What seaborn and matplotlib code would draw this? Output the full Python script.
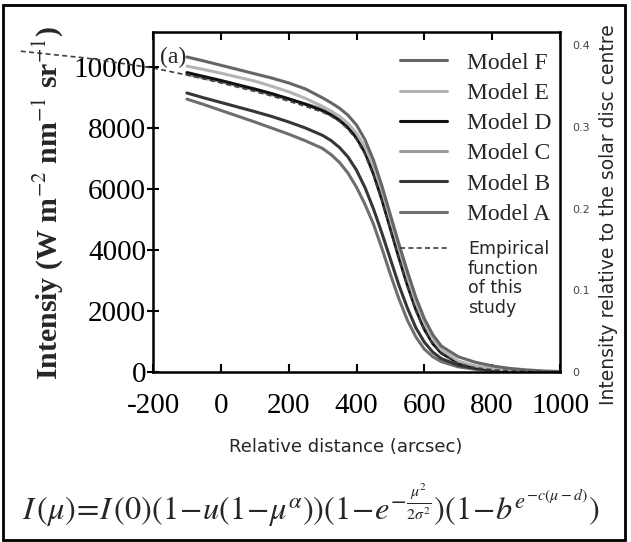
import numpy as np
import pandas as pd
import seaborn as sns
import matplotlib.pyplot as plt
from matplotlib.patches import Rectangle

# Relative distance (arcsec) sample points for the model curves
dist = [-100, -50, 0, 50, 100, 150, 200, 250, 300, 325, 350, 375, 400, 425, 450,
        475, 500, 525, 550, 575, 600, 625, 650, 700, 750, 800, 850, 900, 950, 1000]

# Intensity (W m-2 nm-1 sr-1)
model_f = [10330, 10200, 10060, 9920, 9780, 9640, 9480, 9280, 8990, 8830, 8650, 8420, 8100, 7620, 6950,
           6100, 5150, 4200, 3300, 2450, 1750, 1220, 850, 500, 320, 200, 120, 70, 35, 15]
model_e = [10030, 9920, 9800, 9670, 9540, 9370, 9190, 8970, 8710, 8560, 8380, 8150, 7830, 7380, 6750,
           5950, 5000, 4050, 3120, 2280, 1600, 1080, 730, 360, 200, 110, 62, 35, 18, 8]
model_d = [9820, 9690, 9560, 9420, 9280, 9130, 8960, 8780, 8570, 8430, 8250, 8010, 7680, 7200, 6500,
           5650, 4700, 3750, 2850, 2050, 1400, 930, 620, 300, 160, 90, 50, 28, 14, 6]
model_c = [9760, 9640, 9520, 9390, 9250, 9100, 8940, 8790, 8630, 8510, 8350, 8130, 7800, 7320, 6650,
           5800, 4850, 3900, 2980, 2150, 1480, 990, 660, 320, 170, 95, 55, 30, 15, 6]
model_b = [9150, 8990, 8840, 8690, 8540, 8380, 8200, 8000, 7760, 7590, 7360, 7050, 6620, 6050, 5350,
           4550, 3700, 2850, 2100, 1450, 980, 650, 440, 220, 115, 60, 33, 17, 8, 3]
model_a = [8950, 8770, 8580, 8390, 8200, 8000, 7800, 7580, 7330, 7130, 6870, 6520, 6060, 5500, 4850,
           4050, 3200, 2400, 1700, 1150, 750, 500, 340, 170, 90, 50, 28, 14, 7, 3]

# empirical function (dashed), it runs off the left of the axes in the original
emp_dist = [-590, -400, -200, -100, -50, 0, 50, 100, 150, 200, 250, 300, 325, 350, 375, 400, 425,
            450, 475, 500, 525, 550, 575, 600, 625, 650, 700, 750, 800, 850, 900, 950, 1000]
emp_vals = [10520, 10300, 9970, 9740, 9610, 9480, 9340, 9200, 9050, 8880, 8710, 8520, 8390, 8210,
            7960, 7620, 7130, 6450, 5600, 4650, 3700, 2800, 2000, 1360, 900, 600, 280, 140, 75, 40,
            20, 10, 5]

models = ["Model F", "Model E", "Model D", "Model C", "Model B", "Model A"]
values = [model_f, model_e, model_d, model_c, model_b, model_a]
colors = ["#666666", "#b4b4b4", "#111111", "#9a9a9a", "#363636", "#6e6e6e"]

right_ticks = [0, 0.1, 0.2, 0.3, 0.4]
right_labels = ["0", "0.1", "0.2", "0.3", "0.4"]

sns.set_theme(style="ticks")
plt.rcParams["font.family"] = ["Liberation Serif", "DejaVu Serif"]
plt.rcParams["mathtext.fontset"] = "stix"
plt.rcParams["axes.unicode_minus"] = False

fig = plt.figure(figsize=(6.31, 5.42), dpi=100)
ax = fig.add_axes([153 / 631, 1 - 372 / 542, 407 / 631, 340 / 542])

# draw from A up to F so the top curves sit above
for name, vals, col in list(zip(models, values, colors))[::-1]:
    sns.lineplot(x=dist, y=vals, color=col, lw=2.2, ax=ax, label=name, sort=False)
sns.lineplot(x=emp_dist, y=emp_vals, color="#404040", lw=1.2, ls=(0, (3, 2)),
             ax=ax, label="Empirical", sort=False, clip_on=False)

ax.set_xlim(-200, 1000)
ax.set_ylim(0, 11150)
ax.set_xticks(range(-200, 1001, 200))
ax.set_yticks(range(0, 10001, 2000))
ax.set_xlabel("")
ax.set_ylabel("")
for s in ax.spines.values():
    s.set_linewidth(1.8)
    s.set_color("black")
ax.tick_params(axis="x", direction="in", length=6, width=1.5, top=True,
               labelsize=21, pad=15, colors="black")
ax.tick_params(axis="y", direction="inout", length=8, width=1.5, right=True,
               labelsize=21, pad=1, colors="black")
for t in ax.get_xticklabels() + ax.get_yticklabels():
    t.set_fontfamily("Liberation Serif")

# legend, F on top; empirical entry kept apart as in the original
handles, labels = ax.get_legend_handles_labels()
order = [labels.index(m) for m in models]
leg = ax.legend([handles[i] for i in order], [labels[i] for i in order],
                loc="upper left", bbox_to_anchor=(0.607, 0.941), frameon=False,
                fontsize=17, handlelength=2.0, handletextpad=0.85,
                labelspacing=0.37, borderpad=0, borderaxespad=0)
ax.add_artist(leg)
emp_idx = labels.index("Empirical")
leg2 = ax.legend([handles[emp_idx]], ["Empirical"], loc="center left",
                 bbox_to_anchor=(0.607, (372 - 249) / 340), frameon=False,
                 prop={"family": "DejaVu Sans", "size": 12.5},
                 handlelength=2.76, handletextpad=1.15, borderpad=0, borderaxespad=0)
ax.text((468 - 153) / 407, (372 - 260) / 340, "function\nof this\nstudy",
        transform=ax.transAxes, ha="left", va="top", fontsize=12.5,
        family="DejaVu Sans", linespacing=1.1)

ax.text(0.017, 0.926, "(a)", transform=ax.transAxes, ha="left", va="center",
        fontsize=17)

# right hand scale relative to disc centre
ax2 = ax.twinx()
ax2.set_ylim(0, 340 / 817.5)
ax2.set_yticks(right_ticks)
ax2.set_yticklabels(right_labels)
ax2.tick_params(axis="y", length=0, pad=9, labelsize=8, colors="#444444")
for t in ax2.get_yticklabels():
    t.set_fontfamily("DejaVu Sans")
for s in ax2.spines.values():
    s.set_visible(False)

fig.text(48 / 631, 1 - 203 / 542, r"Intensiy (W m$^{-2}$ nm$^{-1}$ sr$^{-1}$)",
         rotation=90, ha="center", va="center", fontsize=21.5, fontweight="bold")
fig.text(346 / 631, 1 - 447 / 542, "Relative distance (arcsec)", ha="center",
         va="center", fontsize=13, family="DejaVu Sans")
fig.text(608 / 631, 1 - 215 / 542, "Intensity relative to the solar disc centre",
         rotation=90, ha="center", va="center", fontsize=13.5, family="DejaVu Sans")

fig.text(311 / 631, 1 - 505 / 542,
         r"$I\,(\mu)\!=\!I\,(0)(1\!-\!u(1\!-\!\mu^{\alpha}))(1\!-\!e^{-\frac{\mu^2}{2\sigma^2}})(1\!-\!b^{e^{-c(\mu-d)}})$",
         ha="center", va="center", fontsize=23.3)

fig.patches.append(Rectangle((3 / 631, 2 / 542), 622 / 631, 535 / 542,
                             transform=fig.transFigure, fill=False, lw=2,
                             edgecolor="black"))

fig.savefig("out.png", dpi=100)
